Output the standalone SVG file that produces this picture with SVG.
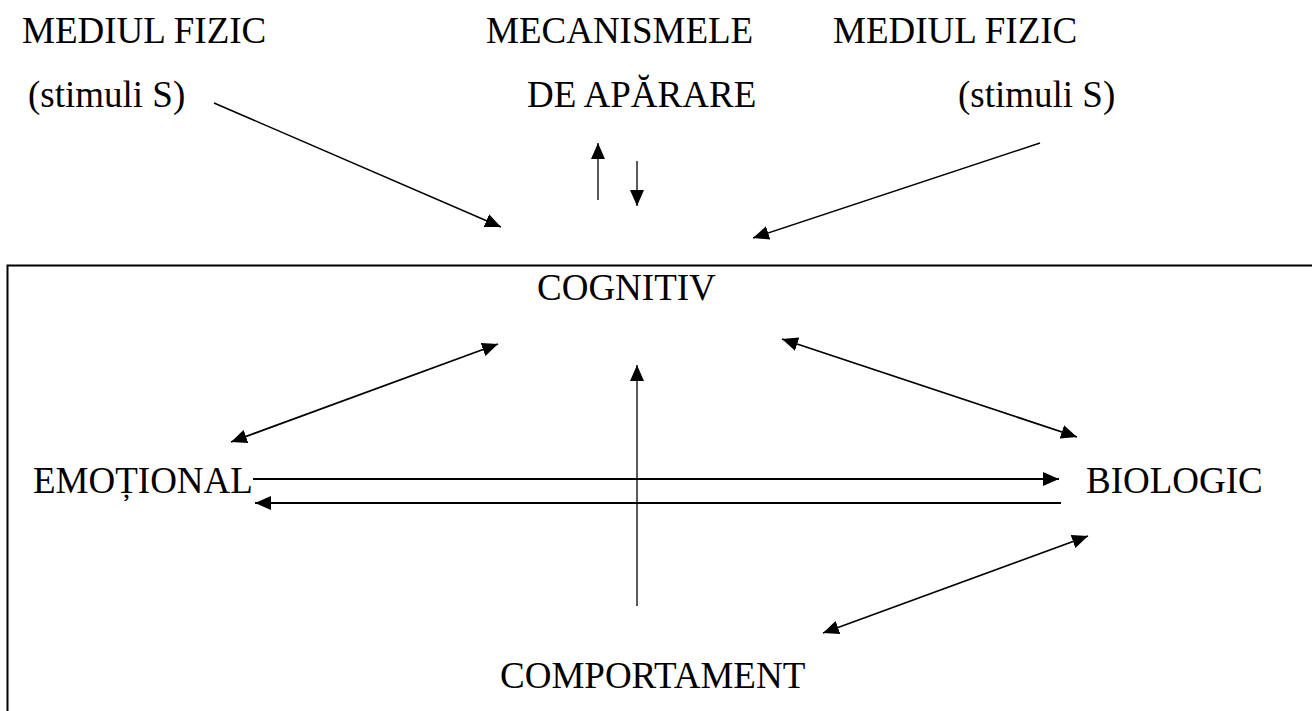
<svg xmlns="http://www.w3.org/2000/svg" width="1312" height="711" viewBox="0 0 1312 711">
<style>
text{font-family:"Liberation Serif","Times New Roman",serif;font-size:37px;fill:#000}
.c{fill:none;stroke:#000}
</style>
<defs>
<marker id="ah" markerUnits="userSpaceOnUse" markerWidth="17" markerHeight="14" refX="16" refY="7" orient="auto-start-reverse" viewBox="0 0 17 14">
<path d="M0,0 L16,7 L0,14 z" fill="#000"/>
</marker>
</defs>
<rect width="1312" height="711" fill="#fff"/>
<g id="frame"><path class="c" stroke-width="2" d="M1314,265.5 H7.5 V714"/></g>
<g id="mediul-fizic-left"><text x="22" y="43">MEDIUL FIZIC</text><text x="28" y="107">(stimuli S)</text></g>
<g id="mecanisme"><text x="486" y="43">MECANISMELE</text><text x="527" y="107">DE APĂRARE</text></g>
<g id="mediul-fizic-right"><text x="833" y="43">MEDIUL FIZIC</text><text x="958" y="107">(stimuli S)</text></g>
<g id="cognitiv"><text x="537" y="300">COGNITIV</text></g>
<g id="emotional"><text x="33" y="493">EMOȚIONAL</text></g>
<g id="biologic"><text x="1086" y="493">BIOLOGIC</text></g>
<g id="comportament"><text x="500" y="688">COMPORTAMENT</text></g>
<g id="connectors">
<line class="c" stroke-width="1.5" x1="214" y1="103" x2="501" y2="227" marker-end="url(#ah)"/>
<line class="c" stroke-width="1.5" x1="1040" y1="143" x2="753" y2="238" marker-end="url(#ah)"/>
<line class="c" stroke-width="1.3" x1="598" y1="200" x2="598" y2="143" marker-end="url(#ah)"/>
<line class="c" stroke-width="1.3" x1="637" y1="161" x2="637" y2="206" marker-end="url(#ah)"/>
<line class="c" stroke-width="1.8" x1="231" y1="442" x2="498" y2="344" marker-start="url(#ah)" marker-end="url(#ah)"/>
<line class="c" stroke-width="1.8" x1="782" y1="339" x2="1077" y2="437" marker-start="url(#ah)" marker-end="url(#ah)"/>
<line class="c" stroke-width="1.3" x1="637" y1="606" x2="637" y2="365" marker-end="url(#ah)"/>
<line class="c" stroke-width="2" x1="253" y1="479" x2="1059" y2="479" marker-end="url(#ah)"/>
<line class="c" stroke-width="2" x1="1061" y1="503" x2="255" y2="503" marker-end="url(#ah)"/>
<line class="c" stroke-width="1.5" x1="823" y1="633" x2="1088" y2="536" marker-start="url(#ah)" marker-end="url(#ah)"/>
</g>
</svg>
